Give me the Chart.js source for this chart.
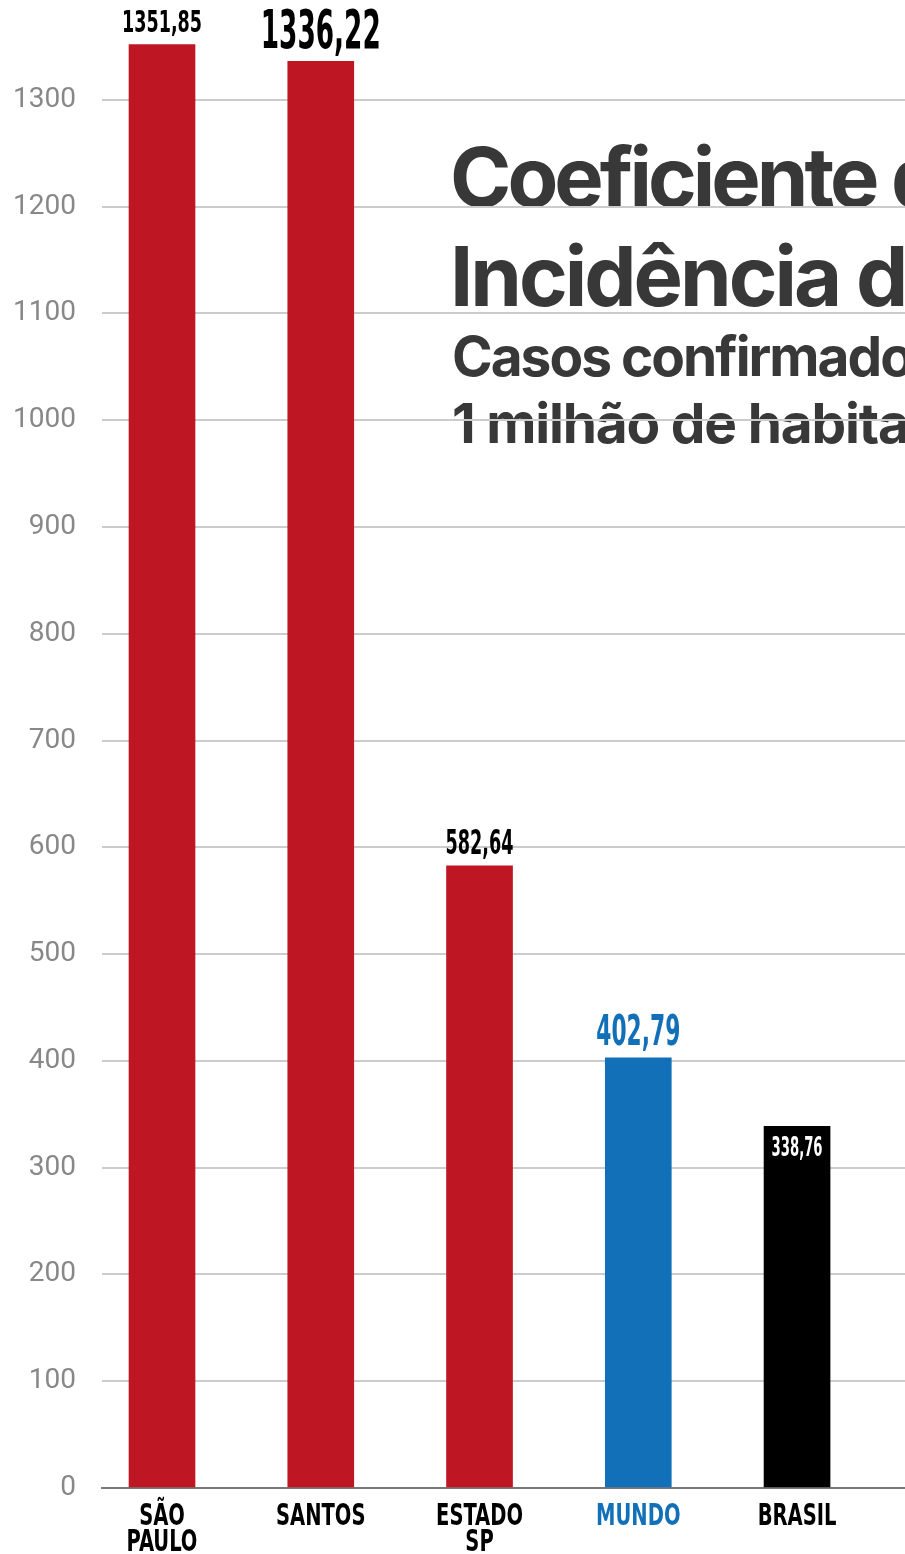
<!DOCTYPE html>
<html>
<head>
<meta charset="utf-8">
<script src="https://cdn.jsdelivr.net/npm/chart.js@4"></script>
<style>
  html, body { margin: 0; padding: 0; background: #fff; overflow: hidden; }
  canvas { display: block; }
</style>
</head>
<body>
<canvas id="myChart" width="905" height="1554"></canvas>
<script>
    // data
    const categories = [['SÃO', 'PAULO'], ['SANTOS'], ['ESTADO', 'SP'], ['MUNDO'], ['BRASIL']];
    const values = [1351.85, 1336.22, 582.64, 402.79, 338.76];
    const barColors = ['#be1622', '#be1622', '#be1622', '#1170b7', '#000000'];
    const yTicks = [0, 100, 200, 300, 400, 500, 600, 700, 800, 900, 1000, 1100, 1200, 1300];
    const titleLines = ['Coeficiente de', 'Incidência de COVID-19', 'Casos confirmados por', '1 milhão de habitantes'];

    const narrow = "'Liberation Sans Narrow', 'DejaVu Sans Condensed', 'Roboto Condensed', sans-serif";

    // look of the value labels, one per bar
    const labelStyle = [
      { size: 31, width: 80, color: '#000', gap: 13 },
      { size: 53, width: 120, color: '#000', gap: 13 },
      { size: 33, width: 68, color: '#000', gap: 12 },
      { size: 42, width: 84, color: '#1170b7', gap: 13 },
      { size: 27, width: 51, color: '#fff', gap: -30 }
    ];
    const catColors = ['#000', '#000', '#000', '#1170b7', '#000'];

    function fmt(v) {
      return v.toFixed(2).replace('.', ',');
    }

    // squeeze text sideways, like a condensed display face
    function drawNarrow(ctx, txt, x, y, size, sx) {
      ctx.save();
      ctx.font = 'bold ' + size + 'px ' + narrow;
      ctx.translate(x, y);
      ctx.scale(sx, 1);
      ctx.fillText(txt, 0, 0);
      ctx.restore();
    }

    const titlePlugin = {
      id: 'titleText',
      beforeDraw(chart) {
        const ctx = chart.ctx;
        ctx.save();
        ctx.fillStyle = '#383838';
        ctx.textAlign = 'left';
        ctx.textBaseline = 'alphabetic';
        ctx.font = "700 83px Inter, 'Open Sans', sans-serif";
        ctx.letterSpacing = '-4px';
        ctx.fillText(titleLines[0], 450, 207);
        ctx.letterSpacing = '-3px';
        ctx.fillText(titleLines[1], 450, 306);
        ctx.font = "700 55px Inter, 'Open Sans', sans-serif";
        ctx.letterSpacing = '-2px';
        ctx.fillText(titleLines[2], 452, 376);
        ctx.letterSpacing = '-1.2px';
        ctx.fillText(titleLines[3], 452, 443);
        ctx.restore();
      }
    };

    const valueLabels = {
      id: 'valueLabels',
      afterDatasetsDraw(chart) {
        const ctx = chart.ctx;
        const meta = chart.getDatasetMeta(0);
        meta.data.forEach(function(bar, i) {
          const s = labelStyle[i];
          const txt = fmt(values[i]);
          ctx.save();
          ctx.font = 'bold ' + s.size + 'px ' + narrow;
          ctx.textAlign = 'center';
          ctx.textBaseline = 'alphabetic';
          ctx.fillStyle = s.color;
          const w = ctx.measureText(txt).width;
          drawNarrow(ctx, txt, bar.x, bar.y - s.gap, s.size, s.width / w);
          ctx.restore();
        });
      }
    };

    // category names under the x axis, placed with the x scale
    const catLabels = {
      id: 'catLabels',
      afterDraw(chart) {
        const ctx = chart.ctx;
        const xs = chart.scales.x;
        ctx.save();
        ctx.textAlign = 'center';
        ctx.textBaseline = 'alphabetic';
        categories.forEach(function(lines, i) {
          const x = xs.getPixelForValue(i);
          ctx.fillStyle = catColors[i];
          lines.forEach(function(t, j) {
            drawNarrow(ctx, t, x, xs.top + 37 + j * 26, 31, 0.7);
          });
        });
        ctx.restore();
      }
    };

    const data = {
      datasets: [{
        data: values.map(function(v, i) { return { x: i, y: v }; }),
        backgroundColor: barColors,
        borderWidth: 0,
        barThickness: 66
      }]
    };

    const config = {
      type: 'bar',
      data,
      options: {
        responsive: false,
        animation: false,
        devicePixelRatio: 1,
        layout: { padding: 0 },
        plugins: {
          legend: { display: false },
          tooltip: { enabled: false }
        },
        scales: {
          x: {
            type: 'linear',
            offset: false,
            min: -0.378,
            max: 4.68,
            grid: { display: false, drawTicks: false, offset: false },
            border: { display: true, color: '#777777', width: 2 },
            afterBuildTicks: function(scale) {
              scale.ticks = categories.map(function(c, i) { return { value: i }; });
            },
            afterFit: function(scale) {
              scale.height = 66;
              scale.paddingLeft = 0;
              scale.paddingRight = 0;
            },
            ticks: { display: false }
          },
          y: {
            min: 0,
            max: 1393.6,
            grid: { color: '#cccccc', lineWidth: 2, drawTicks: false },
            border: { display: false },
            afterBuildTicks: function(scale) {
              scale.ticks = yTicks.map(function(v) { return { value: v }; });
            },
            afterFit: function(scale) {
              scale.width = 102;
              scale.paddingTop = 0;
              scale.paddingBottom = 0;
            },
            ticks: {
              padding: 26,
              color: '#888888',
              font: { family: 'Roboto', size: 28 },
              callback: function(v) { return String(v); }
            }
          }
        }
      },
      plugins: [titlePlugin, valueLabels, catLabels]
    };

    // render init block
    const myChart = new Chart(
      document.getElementById('myChart'),
      config
    );
</script>
</body>
</html>
